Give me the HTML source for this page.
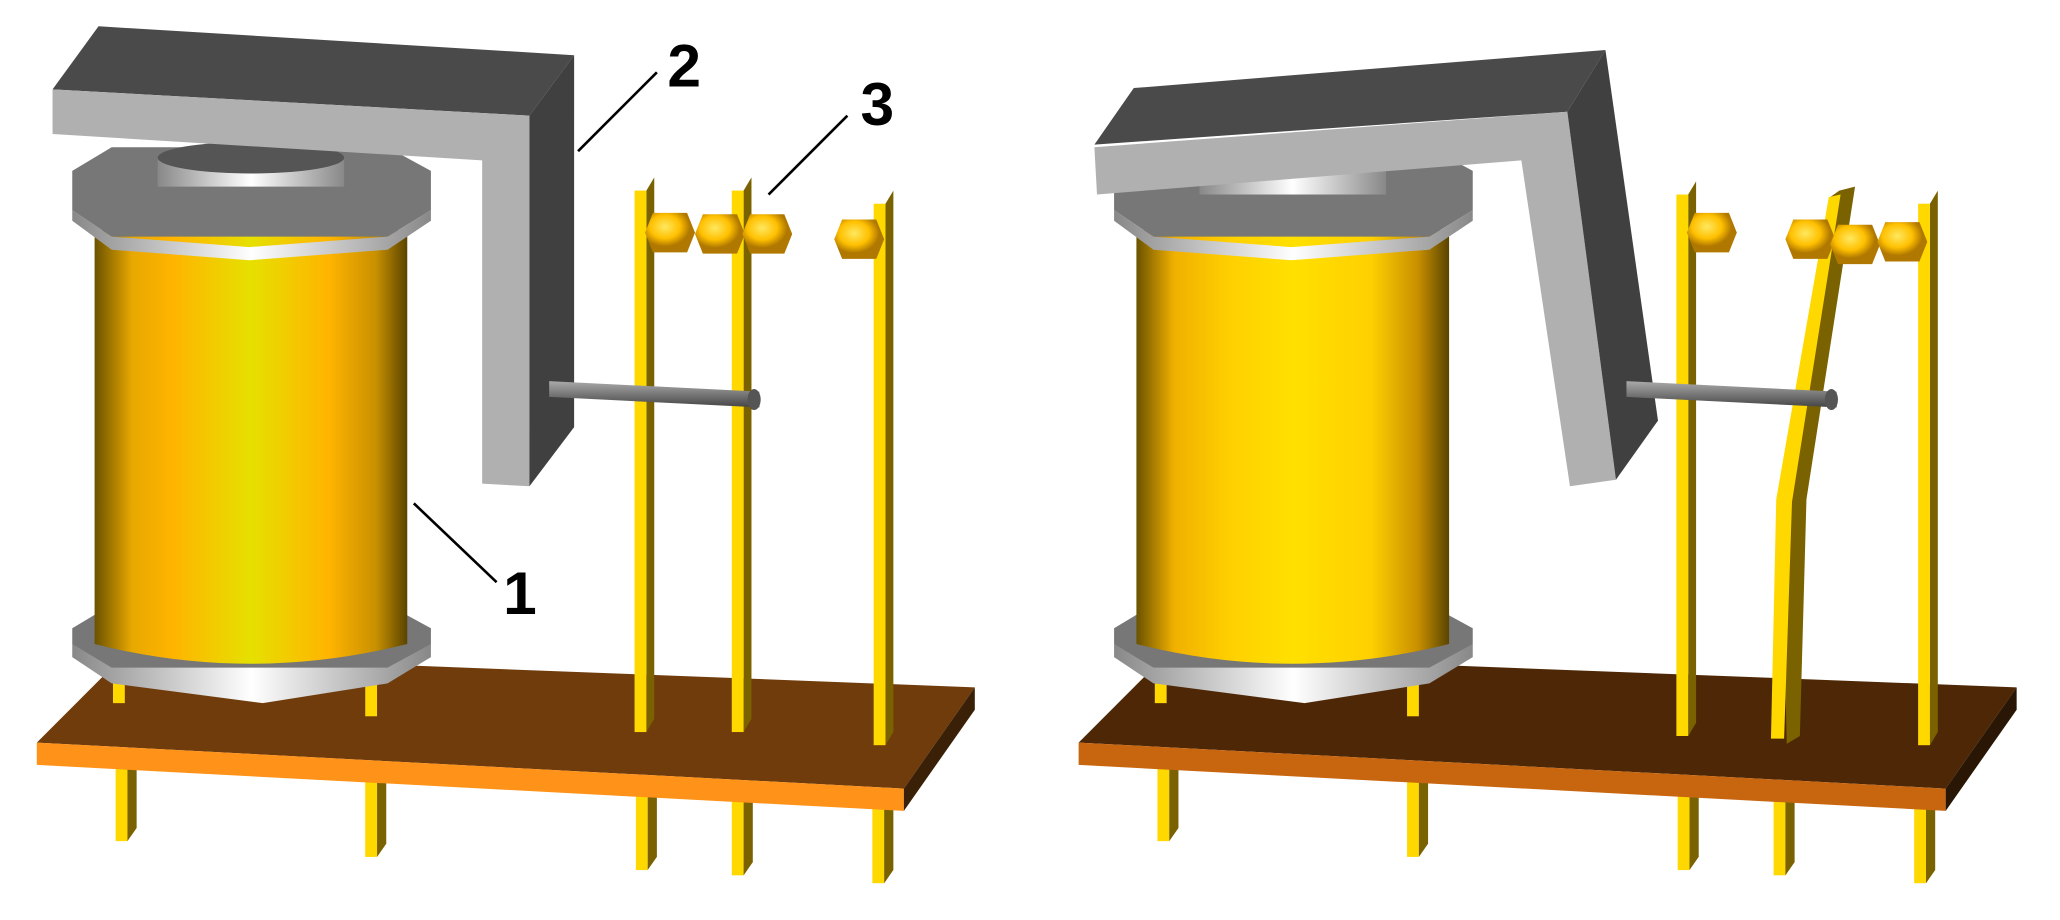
<!DOCTYPE html>
<html><head><meta charset="utf-8"><style>html,body{margin:0;padding:0;background:#fff}svg{display:block}</style></head>
<body>
<svg width="2060" height="920" viewBox="0 0 1568 700" preserveAspectRatio="none" xmlns="http://www.w3.org/2000/svg">
<defs>
<linearGradient id="coilL" x1="0" x2="1"><stop offset="0" stop-color="#6b5200"/><stop offset="0.12" stop-color="#e8a800"/><stop offset="0.25" stop-color="#ffb400"/><stop offset="0.5" stop-color="#e6e000"/><stop offset="0.75" stop-color="#ffb400"/><stop offset="0.9" stop-color="#c89000"/><stop offset="1" stop-color="#5a4400"/></linearGradient>
<linearGradient id="coilR" x1="0" x2="1"><stop offset="0" stop-color="#6b5200"/><stop offset="0.12" stop-color="#f0b000"/><stop offset="0.3" stop-color="#ffd000"/><stop offset="0.5" stop-color="#ffe000"/><stop offset="0.75" stop-color="#ffd000"/><stop offset="0.9" stop-color="#c89000"/><stop offset="1" stop-color="#5a4400"/></linearGradient>
<linearGradient id="flange" x1="0" x2="1"><stop offset="0" stop-color="#888"/><stop offset="0.5" stop-color="#fff"/><stop offset="1" stop-color="#888"/></linearGradient>
<linearGradient id="rod" x1="0" y1="0" x2="0" y2="1"><stop offset="0" stop-color="#aaa"/><stop offset="1" stop-color="#444"/></linearGradient>
<radialGradient id="btn" cx="0.4" cy="0.35"><stop offset="0" stop-color="#ffe860"/><stop offset="0.6" stop-color="#ffc000"/><stop offset="1" stop-color="#b07800"/></radialGradient>
<g id="pin"><rect x="0" y="0" width="9" height="58" fill="#ffd800"/><polygon points="9,0 16,-8 16,48 9,58" fill="#7a6200"/></g>
<g id="strip"><polygon points="9,0 15,-10 15,402 9,412" fill="#7a6200"/><rect x="0" y="0" width="9" height="412" fill="#ffd800"/></g>
<g id="btnL"><polygon points="-13,-15 13,-15 19,0 13,15 -13,15 -19,0" fill="url(#btn)"/></g>
<g id="bflange">
<polygon points="55,490 55,500 85,520 200,535 295,520 328,500 328,490" fill="url(#flange)"/>
<polygon points="55,478 85,460 295,460 328,478 328,490 295,508 85,508 55,490" fill="#777"/>
</g>
<g id="tflange">
<polygon points="55,130 85,112 295,112 328,130 328,160 295,180 85,180 55,160" fill="#777"/>
<polygon points="55,160 85,180 190,188 295,180 328,160 328,168 295,190 190,198 85,190 55,168" fill="url(#flange)"/>
</g>
</defs>

<!-- ============ LEFT RELAY ============ -->
<g>
<use href="#pin" x="88" y="582"/><use href="#pin" x="278" y="594"/><use href="#pin" x="484" y="604"/><use href="#pin" x="557" y="608"/><use href="#pin" x="664" y="614"/>
<polygon points="28,565 95,498 742,523 688,600" fill="#703c0c"/>
<polygon points="28,565 688,600 688,617 28,582" fill="#ff9218"/>
<polygon points="688,600 742,523 742,540 688,617" fill="#3a2006"/>
<rect x="86" y="505" width="9" height="30" fill="#ffd800"/><rect x="278" y="510" width="9" height="35" fill="#ffd800"/>
<use href="#bflange"/>
<path d="M72,175 L310,175 L310,490 Q190,520 72,490Z" fill="url(#coilL)"/>
<use href="#tflange"/>
<rect x="120" y="120" width="142" height="22" fill="url(#flange)"/>
<ellipse cx="191" cy="120" rx="71" ry="12" fill="#555"/>
<polygon points="75,20 437,42 403,88 40,68" fill="#4a4a4a"/>
<polygon points="40,68 403,88 403,370 367,368 367,122 40,102" fill="#b0b0b0"/>
<polygon points="403,88 437,42 437,325 403,370" fill="#404040"/>
<use href="#strip" x="483" y="145"/><use href="#strip" x="557" y="145"/><use href="#strip" x="665" y="155"/>
<polygon points="418,290 578,298 578,310 418,302" fill="url(#rod)"/>
<ellipse cx="574" cy="304" rx="5" ry="8" fill="#555"/>
<use href="#btnL" x="510" y="177"/><use href="#btnL" x="548" y="178"/><use href="#btnL" x="584" y="178"/><use href="#btnL" x="654" y="182"/>
<g stroke="#000" stroke-width="2"><line x1="440" y1="115" x2="500" y2="55"/><line x1="585" y1="148" x2="645" y2="88"/><line x1="315" y1="383" x2="378" y2="443"/></g>
<g font-family="Liberation Sans, sans-serif" font-weight="bold" font-size="46" fill="#000"><text x="508" y="66">2</text><text x="655" y="95">3</text><text x="383" y="467">1</text></g>
</g>

<!-- ============ RIGHT RELAY ============ -->
<g transform="translate(793,0)">
<use href="#pin" x="88" y="582"/><use href="#pin" x="278" y="594"/><use href="#pin" x="484" y="604"/><use href="#pin" x="557" y="608"/><use href="#pin" x="664" y="614"/>
<polygon points="28,565 95,498 742,523 688,600" fill="#4e2806"/>
<polygon points="28,565 688,600 688,617 28,582" fill="#c86610"/>
<polygon points="688,600 742,523 742,540 688,617" fill="#2a1604"/>
<rect x="86" y="505" width="9" height="30" fill="#ffd800"/><rect x="278" y="510" width="9" height="35" fill="#ffd800"/>
<use href="#bflange"/>
<path d="M72,175 L310,175 L310,490 Q190,520 72,490Z" fill="url(#coilR)"/>
<use href="#tflange"/>
<rect x="120" y="130" width="142" height="18" fill="url(#flange)"/>
</g>
<polygon points="863,67 1222,38 1193,85 833,110" fill="#4a4a4a"/>
<polygon points="833,112 1193,85 1230,365 1195,370 1158,122 835,148" fill="#b0b0b0"/>
<polygon points="1193,85 1222,38 1262,320 1230,365" fill="#404040"/>
<use href="#strip" x="1276" y="148"/><use href="#strip" x="1460" y="155"/>
<polygon points="1400,145 1412,142 1375,380 1370,560 1360,566 1356,380 1393,150" fill="#7a6200"/>
<polygon points="1392,150 1401,148 1364,382 1358,562 1348,562 1352,380" fill="#ffd800"/>
<polygon points="1238,290 1398,298 1398,310 1238,302" fill="url(#rod)"/>
<ellipse cx="1394" cy="304" rx="5" ry="8" fill="#555"/>
<use href="#btnL" x="1303" y="177"/><use href="#btnL" x="1378" y="182"/><use href="#btnL" x="1412" y="186"/><use href="#btnL" x="1448" y="184"/>
</svg>
</body></html>
